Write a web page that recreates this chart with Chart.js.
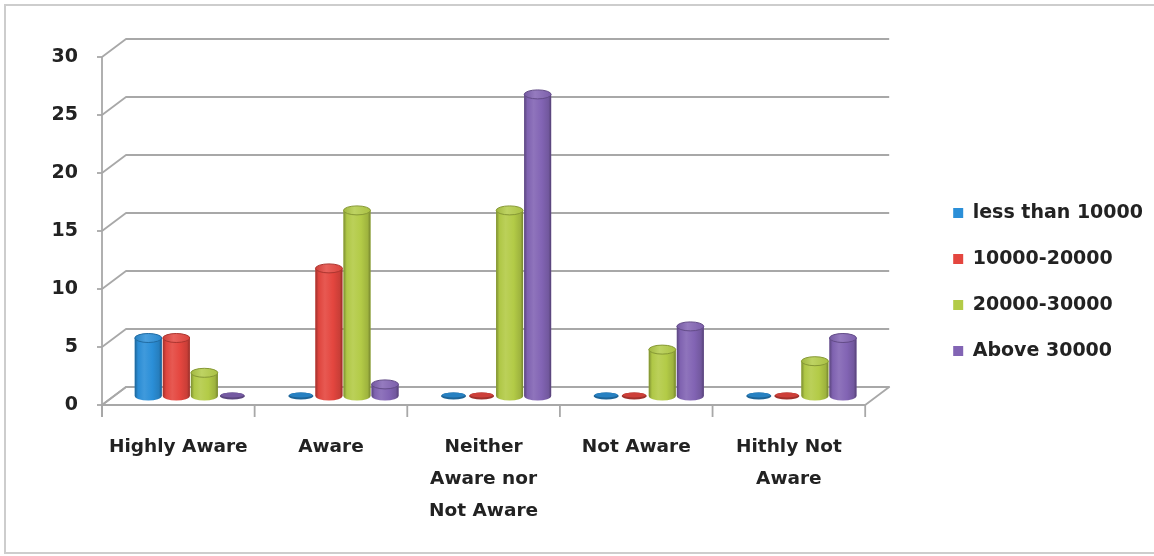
<!DOCTYPE html>
<html><head><meta charset="utf-8">
<script src="https://cdn.jsdelivr.net/npm/chart.js@4.4.0/dist/chart.umd.min.js"></script>
<style>
html,body{margin:0;padding:0;background:#fff;overflow:hidden;width:1154px;height:556px;}
#frame{position:absolute;left:4px;top:4px;width:1150px;height:550px;box-sizing:border-box;border-top:2px solid #cdcdcd;border-left:2px solid #cdcdcd;border-bottom:2px solid #cdcdcd;}
#wrap{position:absolute;left:0;top:0;width:1154px;height:556px;}
</style></head><body>
<div id="frame"></div>
<div id="wrap"><canvas id="c"></canvas></div>
<script>
// ---- data ----
const categories = ['Highly Aware', 'Aware', ['Neither', 'Aware nor', 'Not Aware'], 'Not Aware', ['Hithly Not', 'Aware']];
const seriesNames = ['less than 10000', '10000-20000', '20000-30000', 'Above 30000'];
const lessThan10000 = [5, 0, 0, 0, 0];
const from10000to20000 = [5, 11, 0, 0, 0];
const from20000to30000 = [2, 16, 16, 4, 3];
const above30000 = [0, 1, 26, 6, 5];
const yTickValues = [0, 5, 10, 15, 20, 25, 30];

// ---- style ----
const palette = ['#2B8FD8', '#E4463F', '#B3CB47', '#8264B4'];
const DX = 12, DY = 9; // half-depth offset of the 3D frame

function shade(hex, f) {
  const n = parseInt(hex.slice(1), 16);
  let r = (n >> 16) & 255, g = (n >> 8) & 255, b = n & 255;
  const t = f < 0 ? 0 : 255, p = Math.abs(f);
  r = Math.round((t - r) * p + r); g = Math.round((t - g) * p + g); b = Math.round((t - b) * p + b);
  return 'rgb(' + r + ',' + g + ',' + b + ')';
}

function drawCylinder(ctx, x, top, base, w, c) {
  const rx = w / 2, ry = 4.5;
  const l = x - rx, r = x + rx;
  if (base - top < 1) {
    ctx.beginPath();
    ctx.ellipse(x, base, rx - 1, ry - 1, 0, 0, Math.PI * 2);
    ctx.fillStyle = shade(c, -0.3);
    ctx.fill();
    ctx.beginPath();
    ctx.ellipse(x, base - 1, rx - 2, ry - 2, 0, 0, Math.PI * 2);
    ctx.fillStyle = shade(c, -0.1);
    ctx.fill();
    return;
  }
  const g = ctx.createLinearGradient(l, 0, r, 0);
  g.addColorStop(0, shade(c, -0.3));
  g.addColorStop(0.12, shade(c, -0.02));
  g.addColorStop(0.35, shade(c, 0.1));
  g.addColorStop(0.65, c);
  g.addColorStop(0.9, shade(c, -0.12));
  g.addColorStop(1, shade(c, -0.35));
  ctx.beginPath();
  ctx.moveTo(l, top);
  ctx.lineTo(l, base);
  ctx.ellipse(x, base, rx, ry, 0, Math.PI, 0, true);
  ctx.lineTo(r, top);
  ctx.closePath();
  ctx.fillStyle = g;
  ctx.fill();
  ctx.beginPath();
  ctx.ellipse(x, top, rx, ry, 0, 0, Math.PI * 2);
  const g2 = ctx.createLinearGradient(l, 0, r, 0);
  g2.addColorStop(0, shade(c, -0.1));
  g2.addColorStop(0.4, shade(c, 0.15));
  g2.addColorStop(1, shade(c, -0.05));
  ctx.fillStyle = g2;
  ctx.fill();
  ctx.lineWidth = 1;
  ctx.strokeStyle = shade(c, -0.25);
  ctx.stroke();
}

const frame3d = {
  id: 'frame3d',
  beforeDatasetsDraw(chart) {
    const {ctx, chartArea: a, scales: {x, y}} = chart;
    ctx.save();
    const y0 = y.getPixelForValue(0);
    ctx.strokeStyle = '#a8a8a8';
    ctx.lineWidth = 1.8;
    ctx.lineJoin = 'round';
    // floor
    ctx.beginPath();
    ctx.moveTo(a.left - DX, y0 + DY);
    ctx.lineTo(a.right - DX, y0 + DY);
    ctx.lineTo(a.right + DX, y0 - DY);
    ctx.lineTo(a.left + DX, y0 - DY);
    ctx.closePath();
    ctx.fillStyle = '#fff';
    ctx.fill();
    ctx.stroke();
    // back wall gridlines + side wall diagonals + front tick marks
    y.ticks.forEach(t => {
      const py = y.getPixelForValue(t.value);
      ctx.beginPath();
      ctx.moveTo(a.left - DX, py + DY);
      ctx.lineTo(a.left + DX, py - DY);
      ctx.lineTo(a.right + DX, py - DY);
      ctx.stroke();
      ctx.beginPath();
      ctx.moveTo(a.left - DX - 5, py + DY);
      ctx.lineTo(a.left - DX, py + DY);
      ctx.stroke();
    });
    // front value axis
    const yt = y.getPixelForValue(y.max);
    ctx.beginPath();
    ctx.moveTo(a.left - DX, yt + DY);
    ctx.lineTo(a.left - DX, y0 + DY + 12);
    ctx.stroke();
    // category dividers below the floor
    const n = x.ticks.length;
    for (let i = 0; i <= n; i++) {
      const px = x.getPixelForValue(i - 0.5) - DX;
      ctx.beginPath();
      ctx.moveTo(px, y0 + DY);
      ctx.lineTo(px, y0 + DY + 12);
      ctx.stroke();
    }
    ctx.restore();
  },
  afterDatasetsDraw(chart) {
    const ctx = chart.ctx;
    ctx.save();
    chart.data.datasets.forEach((ds, di) => {
      const meta = chart.getDatasetMeta(di);
      if (meta.hidden) return;
      meta.data.forEach(el => {
        const p = el.getProps(['x', 'y', 'base', 'width'], true);
        drawCylinder(ctx, p.x, p.y, p.base, p.width, ds.backgroundColor);
      });
    });
    ctx.restore();
  }
};

Chart.defaults.font.family = "'DejaVu Sans', sans-serif";
Chart.defaults.color = '#222';

const seriesValues = [lessThan10000, from10000to20000, from20000to30000, above30000];

new Chart(document.getElementById('c'), {
  type: 'bar',
  data: {
    labels: categories,
    datasets: seriesNames.map((name, i) => ({
      label: name,
      data: seriesValues[i],
      backgroundColor: palette[i],
      borderWidth: 0,
      categoryPercentage: 0.735,
      barPercentage: 0.96
    }))
  },
  options: {
    responsive: true,
    maintainAspectRatio: false,
    animation: false,
    layout: { padding: { top: 48, bottom: 40, left: 0, right: 1 } },
    plugins: {
      tooltip: { enabled: false },
      legend: {
        position: 'right',
        align: 'center',
        maxWidth: 320,
        labels: {
          boxWidth: 10, boxHeight: 10, padding: 27, color: '#222',
          font: { size: 19, weight: 'bold' }
        }
      }
    },
    scales: {
      x: {
        grid: { display: false, drawTicks: false },
        border: { display: false },
        ticks: {
          autoSkip: false, maxRotation: 0, padding: 35, labelOffset: -12, color: '#222',
          font: { size: 18.5, weight: 'bold', lineHeight: '32px' }
        },
        afterFit(s) { s.height = 120; }
      },
      y: {
        min: 0, max: 30,
        grid: { display: false, drawTicks: false },
        border: { display: false },
        ticks: { padding: 36, labelOffset: 9, color: '#222', font: { size: 19, weight: 'bold' } },
        afterBuildTicks(s) { s.ticks = yTickValues.map(v => ({ value: v })); },
        afterFit(s) { s.width = 114; }
      },
      gap: {
        position: 'right', display: true,
        grid: { display: false, drawTicks: false },
        border: { display: false },
        ticks: { display: false },
        afterFit(s) { s.width = 49; }
      }
    }
  },
  plugins: [frame3d]
});
</script>
</body></html>
